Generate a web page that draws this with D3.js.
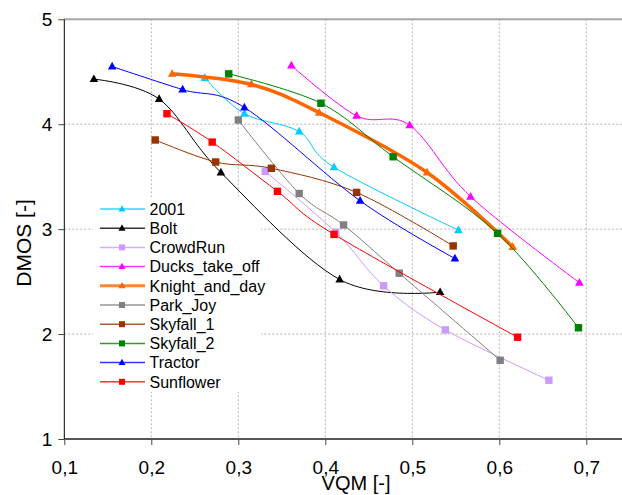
<!DOCTYPE html>
<html>
<head>
<meta charset="utf-8">
<script src="https://cdn.jsdelivr.net/npm/d3@7"></script>
<style>
  body { margin: 0; background: #fff; }
  svg { display: block; font-family: "Liberation Sans", Arial, sans-serif; }
</style>
</head>
<body>
<svg width="622" height="495"></svg>
<script>
// series data: [VQM, DMOS]
const names = ['2001', 'Bolt', 'CrowdRun', 'Ducks_take_off', 'Knight_and_day',
  'Park_Joy', 'Skyfall_1', 'Skyfall_2', 'Tractor', 'Sunflower'];

const s2001 = [[0.2615, 4.44], [0.307, 4.10], [0.370, 3.93], [0.410, 3.59], [0.553, 2.99]];
const bolt = [[0.134, 4.43], [0.209, 4.24], [0.280, 3.54], [0.4165, 2.52], [0.532, 2.40]];
const crowdRun = [[0.331, 3.55], [0.412, 2.97], [0.467, 2.46], [0.538, 2.04], [0.657, 1.56]];
const ducks = [[0.361, 4.56], [0.436, 4.08], [0.497, 3.99], [0.567, 3.31], [0.692, 2.49]];
const knight = [[0.224, 4.48], [0.315, 4.38], [0.393, 4.11], [0.517, 3.54], [0.6155, 2.83]];
const parkJoy = [[0.300, 4.04], [0.370, 3.34], [0.421, 3.04], [0.485, 2.58], [0.601, 1.75]];
const skyfall1 = [[0.2045, 3.85], [0.274, 3.64], [0.338, 3.58], [0.436, 3.35], [0.547, 2.84]];
const skyfall2 = [[0.289, 4.48], [0.395, 4.20], [0.478, 3.69], [0.598, 2.96], [0.691, 2.06]];
const tractor = [[0.155, 4.55], [0.236, 4.33], [0.307, 4.16], [0.440, 3.27], [0.549, 2.72]];
const sunflower = [[0.218, 4.10], [0.270, 3.83], [0.345, 3.36], [0.410, 2.95], [0.621, 1.97]];

const values = [s2001, bolt, crowdRun, ducks, knight, parkJoy, skyfall1, skyfall2, tractor, sunflower];
const colors = ['#00ccff', '#000000', '#cc99ff', '#ff00ff', '#ff6600',
  '#808080', '#993300', '#008000', '#0000ff', '#ff0000'];
const markers = ['tri', 'tri', 'sq', 'tri', 'tri', 'sq', 'sq', 'sq', 'tri', 'sq'];
const widths = [1, 1, 1, 1, 3.5, 1, 1, 1, 1, 1];

const xTicks = [0.1, 0.2, 0.3, 0.4, 0.5, 0.6, 0.7];
const yTicks = [1, 2, 3, 4, 5];

const svg = d3.select('svg');
const x = d3.scaleLinear().domain([0.1, 0.7]).range([64.3, 586.3]);
const y = d3.scaleLinear().domain([1, 5]).range([439, 19.3]);
const right = 622;

// gridlines
const grid = svg.append('g');
grid.selectAll('.vg').data(xTicks.slice(1)).join('line')
  .attr('x1', d => x(d)).attr('x2', d => x(d))
  .attr('y1', y(5)).attr('y2', y(1))
  .attr('stroke', '#b4b4b4').attr('stroke-dasharray', '2,2');
grid.selectAll('.hg').data([2, 3, 4]).join('line')
  .attr('x1', x(0.1)).attr('x2', right)
  .attr('y1', d => y(d)).attr('y2', d => y(d))
  .attr('stroke', '#b4b4b4').attr('stroke-dasharray', '2,2');
grid.append('line')
  .attr('x1', x(0.1)).attr('x2', right)
  .attr('y1', y(5)).attr('y2', y(5))
  .attr('stroke', '#a6a6a6').attr('stroke-width', 2);

// axes
const xAxis = svg.append('g').attr('transform', `translate(0,${y(1)})`)
  .call(d3.axisBottom(x).tickValues(xTicks).tickSize(6).tickPadding(16)
    .tickFormat(d => d3.format('.1f')(d).replace('.', ',')));
xAxis.select('.domain').remove();
xAxis.append('line').attr('x1', x(0.1)).attr('x2', right)
  .attr('stroke', '#555').attr('stroke-width', 2);

const yAxis = svg.append('g').attr('transform', `translate(${x(0.1)},0)`)
  .call(d3.axisLeft(y).tickValues(yTicks).tickSize(6).tickPadding(6).tickFormat(d3.format('d')));
yAxis.select('.domain').attr('d', `M0,${y(5)}V${y(1)}`).attr('stroke', '#000');

svg.selectAll('.tick text').attr('font-size', 19).attr('fill', '#000')
  .attr('font-family', '"Liberation Sans", Arial, sans-serif');
svg.selectAll('.tick line').attr('stroke', '#444');

svg.append('text').attr('x', 356).attr('y', 490).attr('text-anchor', 'middle')
  .attr('font-size', 20).text('VQM [-]');
svg.append('text').attr('transform', 'translate(31,243) rotate(-90)')
  .attr('text-anchor', 'middle').attr('font-size', 21).text('DMOS [-]');

// legend box (covers gridlines)
const legend = { x: 100, y: 209, step: 19.2 };
svg.append('rect').attr('x', 93).attr('y', 197).attr('width', 168).attr('height', 195)
  .attr('fill', '#fff');

const line = d3.line().x(d => x(d[0])).y(d => y(d[1])).curve(d3.curveCatmullRom.alpha(0));

function marker(g, type, cx, cy, r, color) {
  if (type === 'tri') {
    g.append('path')
      .attr('d', `M${cx},${cy - r * 1.1}L${cx + r},${cy + r * 0.7}L${cx - r},${cy + r * 0.7}Z`)
      .attr('fill', color);
  } else {
    g.append('rect').attr('x', cx - r).attr('y', cy - r)
      .attr('width', 2 * r).attr('height', 2 * r).attr('fill', color);
  }
}

// series
values.forEach((vals, i) => {
  const g = svg.append('g');
  g.append('path').attr('d', line(vals)).attr('fill', 'none')
    .attr('stroke', colors[i]).attr('stroke-width', widths[i]);
  vals.forEach(v => marker(g, markers[i], x(v[0]), y(v[1]), markers[i] === 'tri' ? 4.3 : 3.7, colors[i]));
});

// legend entries
names.forEach((n, i) => {
  const cy = legend.y + i * legend.step;
  const g = svg.append('g');
  g.append('line').attr('x1', legend.x).attr('x2', legend.x + 45)
    .attr('y1', cy).attr('y2', cy)
    .attr('stroke', colors[i]).attr('stroke-width', widths[i] > 1 ? 3 : 1.5)
    .attr('stroke-opacity', 0.8);
  marker(g, markers[i], legend.x + 22, cy, markers[i] === 'tri' ? 3.5 : 3, colors[i]);
  g.append('text').attr('x', legend.x + 49.5).attr('y', cy + 5.8)
    .attr('font-size', 16).text(n);
});
</script>
</body>
</html>
